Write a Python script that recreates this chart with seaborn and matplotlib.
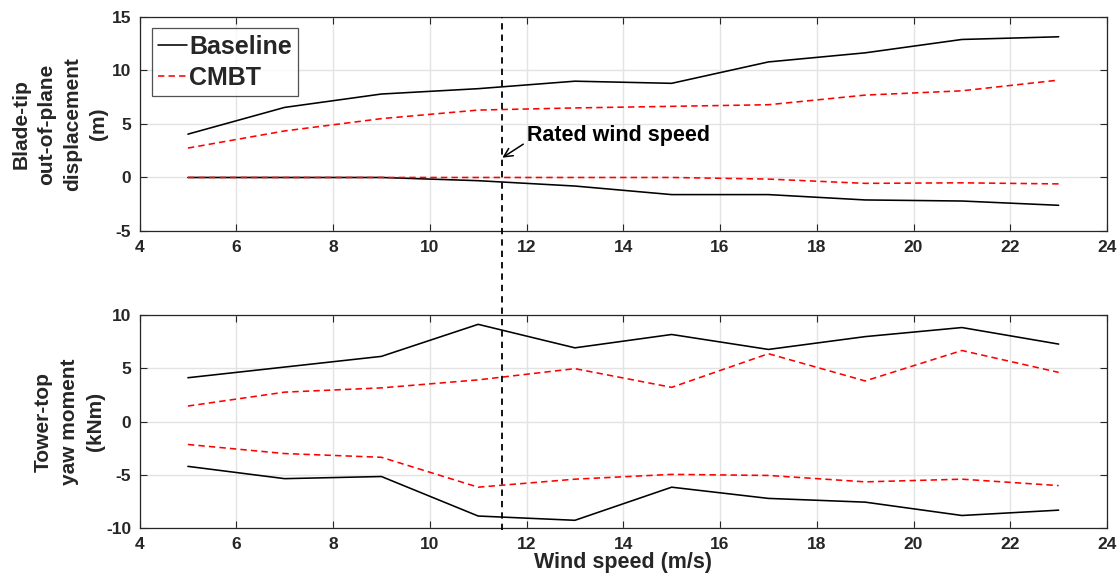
import numpy as np
import pandas as pd
import seaborn as sns
import matplotlib.pyplot as plt
from matplotlib.lines import Line2D
from matplotlib import transforms

# Wind speeds of the simulated load cases (m/s)
wind_speed = [5, 7, 9, 11, 13, 15, 17, 19, 21, 23]

# Blade-tip out-of-plane displacement envelopes (m)
tip_base_max = [4.05, 6.55, 7.8, 8.3, 9.0, 8.8, 10.8, 11.65, 12.9, 13.15]
tip_base_min = [0.0, 0.0, 0.0, -0.3, -0.8, -1.6, -1.6, -2.1, -2.2, -2.6]
tip_cmbt_max = [2.75, 4.35, 5.5, 6.3, 6.5, 6.65, 6.8, 7.7, 8.1, 9.1]
tip_cmbt_min = [0.0, 0.0, 0.0, 0.0, 0.0, 0.0, -0.15, -0.55, -0.5, -0.6]

# Tower-top yaw moment envelopes (kNm)
yaw_base_max = [4.1, 5.1, 6.1, 9.1, 6.9, 8.15, 6.75, 7.95, 8.8, 7.25]
yaw_base_min = [-4.2, -5.35, -5.15, -8.85, -9.25, -6.15, -7.2, -7.55, -8.8, -8.3]
yaw_cmbt_max = [1.45, 2.75, 3.15, 3.9, 4.95, 3.2, 6.35, 3.8, 6.65, 4.6]
yaw_cmbt_min = [-2.15, -3.0, -3.35, -6.15, -5.4, -4.95, -5.05, -5.65, -5.4, -6.0]

series_names = ["Baseline", "CMBT"]
rated_speed = 11.5
xticks = [4, 6, 8, 10, 12, 14, 16, 18, 20, 22, 24]

sns.set_theme(style="white")
plt.rcParams["font.family"] = ["Liberation Sans", "DejaVu Sans"]
plt.rcParams["font.weight"] = "bold"
plt.rcParams["axes.unicode_minus"] = False

DARK = "#262626"
fig = plt.figure(figsize=(11.18, 5.76), dpi=100)
ax1 = fig.add_axes([0.1248, 0.599, 0.8654, 0.3715])
ax2 = fig.add_axes([0.1248, 0.0828, 0.8654, 0.3708])

styles = {
    "Baseline": dict(color="black", linestyle="-", linewidth=1.15),
    "CMBT": dict(color="red", linestyle=(0, (4, 2.6)), linewidth=1.15),
}


def draw_panel(ax, base_max, base_min, cmbt_max, cmbt_min, with_legend):
    x = np.array(wind_speed)
    for name, upper, lower in [("Baseline", base_max, base_min),
                               ("CMBT", cmbt_max, cmbt_min)]:
        sns.lineplot(x=x, y=np.array(upper), ax=ax,
                     label=name if with_legend else None, **styles[name])
        sns.lineplot(x=x, y=np.array(lower), ax=ax, label=None, **styles[name])


draw_panel(ax1, tip_base_max, tip_base_min, tip_cmbt_max, tip_cmbt_min, True)
draw_panel(ax2, yaw_base_max, yaw_base_min, yaw_cmbt_max, yaw_cmbt_min, False)

for ax, ylim, yticks in [(ax1, (-5, 15), [-5, 0, 5, 10, 15]),
                         (ax2, (-10, 10), [-10, -5, 0, 5, 10])]:
    ax.set_xlim(4, 24)
    ax.set_ylim(*ylim)
    ax.set_xticks(xticks)
    ax.set_yticks(yticks)
    ax.grid(True, color="#e3e3e3", linewidth=1.0)
    ax.set_axisbelow(True)
    ax.tick_params(axis="both", which="both", direction="in", length=5,
                   width=0.8, color=DARK, labelcolor=DARK, labelsize=12.5,
                   top=True, right=True, left=True, bottom=True)
    ax.tick_params(axis="x", pad=6.5)
    ax.tick_params(axis="y", pad=6)
    for lbl in ax.get_xticklabels() + ax.get_yticklabels():
        lbl.set_fontweight("bold")
    for sp in ax.spines.values():
        sp.set_visible(True)
        sp.set_color(DARK)
        sp.set_linewidth(0.9)

ax1.set_ylabel("Blade-tip\nout-of-plane\ndisplacement\n(m)", fontsize=15,
               fontweight="bold", color=DARK, linespacing=1.45)
ax1.yaxis.set_label_coords(-0.033, 0.5)
ax2.set_ylabel("Tower-top\nyaw moment\n(kNm)", fontsize=15,
               fontweight="bold", color=DARK, linespacing=1.45)
ax2.yaxis.set_label_coords(-0.036, 0.5)
ax2.set_xlabel("Wind speed (m/s)", fontsize=15.5, fontweight="bold",
               color=DARK, labelpad=0)
ax1.set_xlabel("")

leg = ax1.legend(loc="upper left", bbox_to_anchor=(0.0125, 0.947),
                 fontsize=18, frameon=True, fancybox=False, handlelength=1.15,
                 handletextpad=0.1, borderpad=0.25, labelspacing=0.3,
                 borderaxespad=0.0)
leg.get_frame().set_edgecolor(DARK)
leg.get_frame().set_linewidth(0.9)
for t in leg.get_texts():
    t.set_fontweight("bold")

# Rated wind speed marker running through both panels
trans = transforms.blended_transform_factory(ax1.transData, fig.transFigure)
fig.add_artist(Line2D([rated_speed, rated_speed], [0.079, 0.970],
                      transform=trans, color="black", linewidth=1.3,
                      linestyle=(0, (3.5, 2.8)), zorder=5))

ax1.annotate("Rated wind speed", xy=(rated_speed, 1.85), xytext=(12.0, 3.9),
             fontsize=15.5, fontweight="bold", color="black",
             ha="left", va="center",
             arrowprops=dict(arrowstyle="->", color="black", lw=1.1,
                             shrinkA=0, shrinkB=0, relpos=(0.0, 0.2)))

fig.savefig("out.png", dpi=100)
